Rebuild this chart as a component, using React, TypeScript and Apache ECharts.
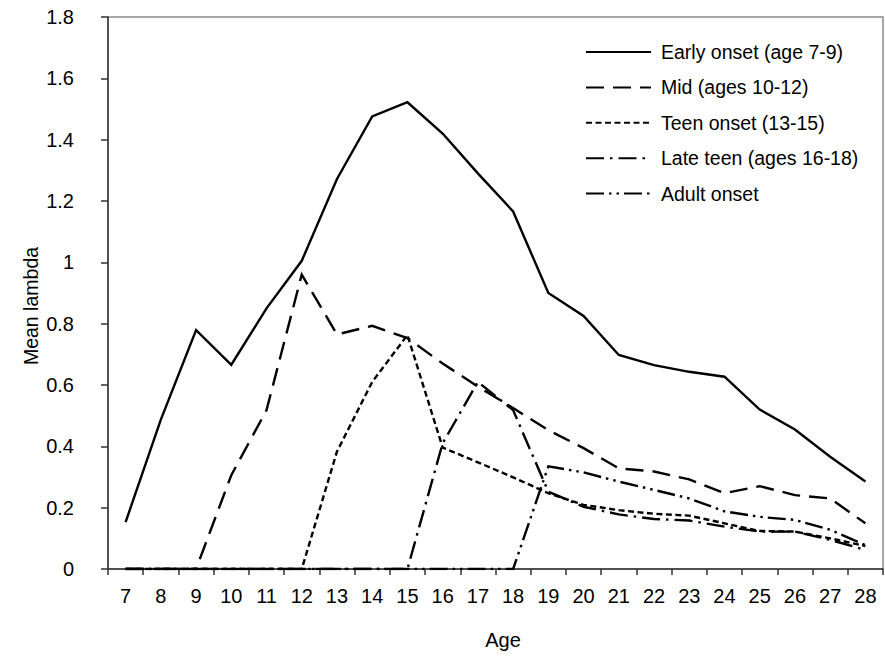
import React, { useEffect, useRef } from "react";
import * as echarts from "echarts";

// Age (years) on the horizontal axis
const ages = ["7", "8", "9", "10", "11", "12", "13", "14", "15", "16", "17", "18", "19", "20", "21", "22", "23", "24", "25", "26", "27", "28"];

// Mean lambda for each onset group, one value per age
const earlyOnset = [0.153, 0.487, 0.779, 0.666, 0.85, 1.005, 1.272, 1.476, 1.522, 1.42, 1.29, 1.166, 0.9, 0.825, 0.698, 0.665, 0.643, 0.627, 0.52, 0.455, 0.366, 0.285];
const midOnset = [0, 0, 0, 0.306, 0.518, 0.96, 0.765, 0.793, 0.753, 0.67, 0.595, 0.525, 0.453, 0.394, 0.328, 0.318, 0.292, 0.247, 0.27, 0.241, 0.23, 0.149];
const teenOnset = [0, 0, 0, 0, 0, 0, 0.383, 0.61, 0.763, 0.396, 0.348, 0.299, 0.247, 0.209, 0.192, 0.18, 0.174, 0.149, 0.124, 0.122, 0.1, 0.075];
const lateTeenOnset = [0, 0, 0, 0, 0, 0, 0, 0, 0, 0.41, 0.61, 0.518, 0.252, 0.203, 0.178, 0.163, 0.158, 0.138, 0.122, 0.122, 0.095, 0.062];
const adultOnset = [0, 0, 0, 0, 0, 0, 0, 0, 0, 0, 0, 0, 0.335, 0.315, 0.285, 0.258, 0.23, 0.188, 0.17, 0.16, 0.128, 0.078];

const seriesNames = [
  "Early onset (age 7-9)",
  "Mid (ages 10-12)",
  "Teen onset (13-15)",
  "Late teen (ages 16-18)",
  "Adult onset",
];

const FONT = "'Liberation Sans', Arial, Helvetica, sans-serif";
const LINE_W = 2.4;

export default function App() {
  const ref = useRef<HTMLDivElement>(null);

  useEffect(() => {
    if (!ref.current) return;
    const chart = echarts.init(ref.current, undefined, { renderer: "svg" });

    const values = [earlyOnset, midOnset, teenOnset, lateTeenOnset, adultOnset];
    const dashes: (string | number[])[] = [
      "solid",
      [18, 9],
      [6, 3.5],
      [18, 6, 2.5, 6],
      [18, 5, 2.5, 5, 2.5, 5],
    ];

    chart.setOption({
      animation: false,
      backgroundColor: "#ffffff",
      textStyle: { fontFamily: FONT },
      grid: {
        left: 108,
        right: 2,
        top: 17,
        bottom: 93,
        show: true,
        borderColor: "#8c8c8c",
        borderWidth: 1.5,
      },
      legend: {
        orient: "vertical",
        left: 580,
        top: 37,
        itemWidth: 65,
        itemHeight: 14,
        itemGap: 15.4,
        data: seriesNames,
        itemStyle: { opacity: 0, borderWidth: 0 },
        lineStyle: { opacity: 1 },
        textStyle: {
          fontFamily: FONT,
          fontSize: 19.5,
          color: "#000",
          lineHeight: 20,
          padding: [0, 0, 0, 5],
        },
      },
      xAxis: {
        type: "category",
        data: ages,
        boundaryGap: true,
        axisLine: { lineStyle: { color: "#333", width: 1.5 } },
        axisTick: { show: true, interval: 0, length: 6, lineStyle: { color: "#333", width: 1.5 } },
        axisLabel: { interval: 0, margin: 17, fontSize: 20, color: "#000", fontFamily: FONT },
        splitLine: { show: false },
      },
      yAxis: {
        type: "value",
        min: 0,
        max: 1.8,
        interval: 0.2,
        axisLine: { show: true, lineStyle: { color: "#333", width: 1.5 } },
        axisTick: { show: true, length: 7, lineStyle: { color: "#333", width: 1.5 } },
        axisLabel: { margin: 34, fontSize: 20, color: "#000", fontFamily: FONT },
        splitLine: { show: false },
      },
      graphic: [
        {
          type: "text",
          x: 31,
          y: 306,
          rotation: Math.PI / 2,
          style: {
            text: "Mean lambda",
            fontSize: 19.5,
            fontFamily: FONT,
            fill: "#000",
            align: "center",
            verticalAlign: "middle",
          },
        },
        {
          type: "text",
          x: 503,
          y: 640,
          style: {
            text: "Age",
            fontSize: 20,
            fontFamily: FONT,
            fill: "#000",
            align: "center",
            verticalAlign: "middle",
          },
        },
      ],
      series: values.map((v, i) => ({
        name: seriesNames[i],
        type: "line",
        data: v,
        symbol: "none",
        showSymbol: false,
        z: 10 - i,
        lineStyle: {
          color: "#000",
          width: LINE_W,
          type: dashes[i],
          cap: "butt",
          join: "miter",
        },
        itemStyle: { color: "#000" },
      })),
    });

    return () => chart.dispose();
  }, []);

  return (
    <div
      ref={ref}
      style={{ position: "absolute", left: 0, top: 0, width: 885, height: 662 }}
    />
  );
}
